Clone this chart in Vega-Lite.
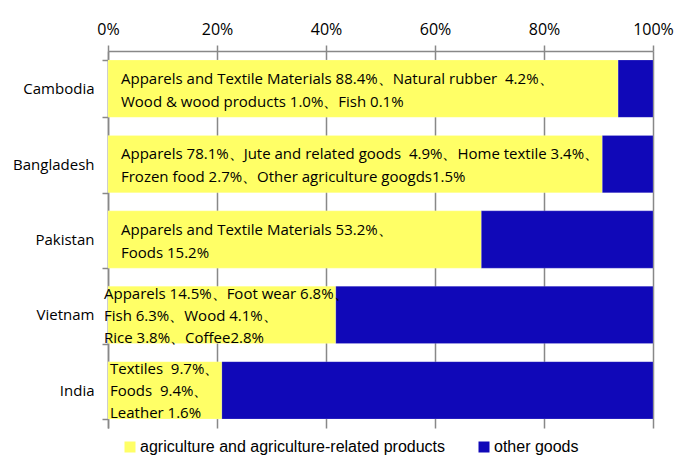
{
  "$schema": "https://vega.github.io/schema/vega-lite/v6.json",
  "autosize": {"type": "none"},
  "width": 545,
  "height": 377,
  "padding": {"left": 108, "top": 51, "right": 25, "bottom": 30},
  "background": "white",
  "config": {
    "font": "Open Sans",
    "view": {"stroke": null}
  },
  "datasets": {
    "bars": [
      {"country": "Cambodia", "type": "agriculture and agriculture-related products", "share": 0.936, "ord": 1},
      {"country": "Cambodia", "type": "other goods", "share": 0.064, "ord": 2},
      {"country": "Bangladesh", "type": "agriculture and agriculture-related products", "share": 0.907, "ord": 1},
      {"country": "Bangladesh", "type": "other goods", "share": 0.093, "ord": 2},
      {"country": "Pakistan", "type": "agriculture and agriculture-related products", "share": 0.685, "ord": 1},
      {"country": "Pakistan", "type": "other goods", "share": 0.315, "ord": 2},
      {"country": "Vietnam", "type": "agriculture and agriculture-related products", "share": 0.418, "ord": 1},
      {"country": "Vietnam", "type": "other goods", "share": 0.582, "ord": 2},
      {"country": "India", "type": "agriculture and agriculture-related products", "share": 0.209, "ord": 1},
      {"country": "India", "type": "other goods", "share": 0.791, "ord": 2}
    ],
    "labels": [
      {"country": "Cambodia", "group": "a", "text": ["Apparels and Textile Materials 88.4%、Natural rubber\u00a0 4.2%、", "Wood & wood products 1.0%、Fish 0.1%"]},
      {"country": "Bangladesh", "group": "a", "text": ["Apparels 78.1%、Jute and related goods\u00a0 4.9%、Home textile 3.4%、", "Frozen food 2.7%、Other agriculture googds1.5%"]},
      {"country": "Pakistan", "group": "a", "text": ["Apparels and Textile Materials 53.2%、", "Foods 15.2%"]},
      {"country": "Vietnam", "group": "b", "text": ["Apparels 14.5%、Foot wear 6.8%、", "Fish 6.3%、Wood 4.1%、", "Rice 3.8%、Coffee2.8%"]},
      {"country": "India", "group": "c", "text": ["Textiles\u00a0 9.7%、", "Foods\u00a0 9.4%、", "Leather 1.6%"]}
    ]
  },
  "encoding": {
    "y": {
      "field": "country",
      "type": "nominal",
      "sort": ["Cambodia", "Bangladesh", "Pakistan", "Vietnam", "India"],
      "scale": {"paddingInner": 0.24, "paddingOuter": 0.12},
      "axis": {
        "title": null,
        "labelFont": "Open Sans",
        "labelFontSize": 15,
        "labelColor": "#000000",
        "labelPadding": 8,
        "domainColor": "#888888",
        "domainWidth": 1.5,
        "tickColor": "#888888",
        "tickWidth": 1.5,
        "tickSize": 6,
        "tickBand": "extent",
        "grid": false
      }
    }
  },
  "layer": [
    {
      "data": {"name": "bars"},
      "mark": {"type": "bar", "stroke": "#ffffff", "strokeOpacity": 0.35, "strokeWidth": 0.5},
      "encoding": {
        "x": {
          "field": "share",
          "type": "quantitative",
          "stack": "zero",
          "scale": {"domain": [0, 1], "nice": false},
          "axis": {
            "orient": "top",
            "title": null,
            "format": ".0%",
            "values": [0, 0.2, 0.4, 0.6, 0.8, 1],
            "labelFont": "Open Sans",
            "labelFontSize": 16,
            "labelColor": "#000000",
            "labelPadding": 8,
            "domainColor": "#888888",
            "domainWidth": 1.5,
            "tickColor": "#888888",
            "tickWidth": 1.5,
            "tickSize": 6,
            "grid": true,
            "gridColor": "#888888",
            "gridWidth": 1.5,
            "labelFlush": false
          }
        },
        "color": {
          "field": "type",
          "type": "nominal",
          "scale": {
            "domain": ["agriculture and agriculture-related products", "other goods"],
            "range": ["#FFFF66", "#1008B8"]
          },
          "legend": {
            "title": null,
            "orient": "none",
            "direction": "horizontal",
            "legendX": 14,
            "legendY": 388,
            "symbolType": "square",
            "symbolSize": 121,
            "symbolStrokeWidth": 0,
            "labelFont": "Liberation Sans",
            "labelFontSize": 16,
            "labelColor": "#000000",
            "labelOffset": 2,
            "columnPadding": 30,
            "labelLimit": 400
          }
        },
        "order": {"field": "ord", "type": "quantitative"}
      }
    },
    {
      "data": {"name": "labels"},
      "transform": [{"filter": "datum.group == 'a'"}],
      "mark": {"type": "text", "align": "left", "baseline": "middle", "dx": 13, "dy": -10, "fontSize": 15, "lineHeight": 23, "font": "Open Sans", "color": "#000000"},
      "encoding": {
        "x": {"datum": 0, "type": "quantitative"},
        "text": {"field": "text"}
      }
    },
    {
      "data": {"name": "labels"},
      "transform": [{"filter": "datum.group == 'b'"}],
      "mark": {"type": "text", "align": "left", "baseline": "middle", "dx": -4, "dy": -21, "fontSize": 15, "lineHeight": 22, "font": "Open Sans", "color": "#000000"},
      "encoding": {
        "x": {"datum": 0, "type": "quantitative"},
        "text": {"field": "text"}
      }
    },
    {
      "data": {"name": "labels"},
      "transform": [{"filter": "datum.group == 'c'"}],
      "mark": {"type": "text", "align": "left", "baseline": "middle", "dx": 2, "dy": -21, "fontSize": 15, "lineHeight": 22, "font": "Open Sans", "color": "#000000"},
      "encoding": {
        "x": {"datum": 0, "type": "quantitative"},
        "text": {"field": "text"}
      }
    }
  ]
}
